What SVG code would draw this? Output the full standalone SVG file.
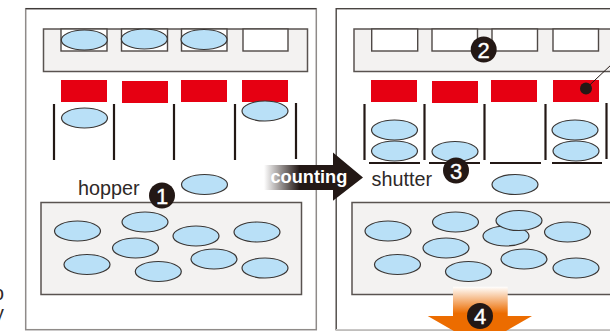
<svg xmlns="http://www.w3.org/2000/svg" width="610" height="331" viewBox="0 0 610 331">
<style>
.pan{fill:#fff;stroke:#8f8b89;stroke-width:1.5}
.blk{fill:#f3f2f1;stroke:#595350;stroke-width:1.5}
.nt{fill:#fff;stroke:#4f4946;stroke-width:1.4}
.rd{fill:#e60012}
.b{fill:#b9e0f7;stroke:#3a3634;stroke-width:1.2}
.w{stroke:#231815;stroke-width:2.2;fill:none}
.t{font-family:"Liberation Sans",Arial,sans-serif;font-size:19.8px;fill:#2e2927}
.bd{fill:#231815}
.n{font-family:"Liberation Sans",Arial,sans-serif;font-size:22px;fill:#fff;text-anchor:middle;stroke:#fff;stroke-width:0.4}
</style>
<defs>
<linearGradient id="gc" x1="0" x2="1" y1="0" y2="0"><stop offset="0" stop-color="#fff"/><stop offset="0.36" stop-color="#231815"/><stop offset="1" stop-color="#231815"/></linearGradient>
<linearGradient id="go" x1="0" x2="0" y1="0" y2="1"><stop offset="0" stop-color="#fff"/><stop offset="0.45" stop-color="#ec6c00"/><stop offset="1" stop-color="#ec6c00"/></linearGradient>
</defs>
<rect width="610" height="331" fill="#fff"/>
<text class="t" x="-7" y="300">o</text>
<text class="t" x="-6" y="320">y</text>

<g id="panel-left">
<rect class="pan" x="25.7" y="8.7" width="290.6" height="321"/>
<path d="M25.7 8.7H316.3" stroke="#3f3a38" stroke-width="1.3" fill="none"/>
<g id="magazine-left">
<rect class="blk" x="43.5" y="29" width="264" height="42.5"/>
<rect class="nt" x="61" y="29" width="46" height="22"/><rect class="nt" x="121.5" y="29" width="46" height="22"/><rect class="nt" x="181.5" y="29" width="45.5" height="22"/><rect class="nt" x="243" y="29" width="45" height="22"/>
</g>
<g id="gates-left">
<rect class="rd" x="61" y="80" width="46" height="22"/><rect class="rd" x="122" y="81" width="46" height="22"/><rect class="rd" x="181" y="80" width="46" height="22"/><rect class="rd" x="242" y="80" width="46" height="22"/>
</g>
<g id="chutes-left" class="w">
<path d="M54 104V160M114 104V160M174 104V160M235 104V160M296 103V159"/>
</g>
<g id="hopper-left">
<rect class="blk" x="41" y="202.5" width="260.5" height="92"/>
</g>
<g id="beans-left">
<ellipse class="b" cx="84.3" cy="40" rx="23" ry="10"/><ellipse class="b" cx="144.3" cy="39" rx="23" ry="10"/><ellipse class="b" cx="204" cy="39.5" rx="23" ry="10"/>
<ellipse class="b" cx="84.5" cy="118" rx="23" ry="10"/><ellipse class="b" cx="265" cy="111" rx="23" ry="10"/>
<ellipse class="b" cx="204.5" cy="184.5" rx="23" ry="10"/>
<ellipse class="b" cx="77.5" cy="231" rx="23" ry="10"/><ellipse class="b" cx="145" cy="222" rx="23" ry="10"/><ellipse class="b" cx="196" cy="236" rx="23" ry="10"/><ellipse class="b" cx="257" cy="232" rx="23" ry="10"/><ellipse class="b" cx="135.5" cy="248" rx="23" ry="10"/><ellipse class="b" cx="87" cy="264.5" rx="23" ry="10"/><ellipse class="b" cx="158.3" cy="271.5" rx="23" ry="10"/><ellipse class="b" cx="214" cy="259" rx="23" ry="10"/><ellipse class="b" cx="265" cy="268" rx="23" ry="10"/>
</g>
<text class="t" x="78" y="195">hopper</text>
<g id="badge-1"><circle class="bd" cx="162" cy="195.500" r="13"/><text class="n" x="162" y="203.500">1</text></g>
</g>

<g id="panel-right">
<rect x="336.2" y="8.7" width="290" height="321" fill="#fff" stroke="#4a4542" stroke-width="1.4"/>
<path d="M336 329.7H610" stroke="#c9c7c6" stroke-width="1.4"/>
<g id="magazine-right">
<rect class="blk" x="354" y="29" width="270" height="42.5"/>
<rect class="nt" x="371.7" y="29" width="46" height="22"/><rect class="nt" x="432" y="29" width="45.5" height="22"/><rect class="nt" x="492" y="29" width="45.5" height="22"/><rect class="nt" x="553" y="29" width="45.5" height="22"/>
</g>
<g id="gates-right">
<rect class="rd" x="371" y="80" width="46" height="22"/><rect class="rd" x="432" y="81" width="46" height="22"/><rect class="rd" x="491" y="80" width="46" height="22"/><rect class="rd" x="553" y="80" width="46" height="22"/>
</g>
<g id="chutes-right" class="w">
<path d="M364.5 104V160M424.5 104V160M484.5 104V160M545.5 104V160M606.5 103V159"/>
<path d="M369 163H420M429 163H480M490 163H541M552 163H602"/>
</g>
<g id="hopper-right">
<rect class="blk" x="352" y="202.5" width="270" height="92"/>
</g>
<g id="beans-right">
<ellipse class="b" cx="394.5" cy="130" rx="23" ry="10"/><ellipse class="b" cx="394.5" cy="151" rx="23" ry="10"/><ellipse class="b" cx="455" cy="151.5" rx="23" ry="10"/><ellipse class="b" cx="575" cy="130" rx="23" ry="10"/><ellipse class="b" cx="576" cy="151" rx="23" ry="10"/>
<ellipse class="b" cx="515" cy="184.5" rx="23" ry="10"/>
<ellipse class="b" cx="388" cy="231" rx="23" ry="10"/><ellipse class="b" cx="455.5" cy="222" rx="23" ry="10"/><ellipse class="b" cx="506" cy="236" rx="23" ry="10"/><ellipse class="b" cx="519" cy="220.5" rx="23" ry="10"/><ellipse class="b" cx="567.5" cy="232" rx="23" ry="10"/><ellipse class="b" cx="446" cy="248" rx="23" ry="10"/><ellipse class="b" cx="397.5" cy="264.5" rx="23" ry="10"/><ellipse class="b" cx="468.5" cy="271.5" rx="23" ry="10"/><ellipse class="b" cx="524" cy="259" rx="23" ry="10"/><ellipse class="b" cx="576" cy="268" rx="23" ry="10"/>
</g>
<text class="t" x="371.5" y="186">shutter</text>
<g id="badge-2"><circle class="bd" cx="483.7" cy="49.5" r="13"/><text class="n" x="483.7" y="57.500">2</text></g>
<g id="badge-3"><circle class="bd" cx="456" cy="170.500" r="13"/><text class="n" x="456" y="178.500">3</text></g>
<g id="pointer"><path d="M586 88.500L612 64" stroke="#231815" stroke-width="1" fill="none"/><circle class="bd" cx="586" cy="88.500" r="6"/></g>
</g>

<g id="connectors">
<path id="counting-arrow" d="M264 165H333V152.500L363 177.500L333 200.700V190H264Z" fill="url(#gc)"/>
<text x="270.500" y="183" style="font-family:'Liberation Sans',Arial,sans-serif;font-size:18.2px;font-weight:bold;fill:#fff">counting</text>
<path id="output-arrow" d="M453 286.700H507.700V316H532L480 346L427.700 316H453Z" fill="url(#go)"/>
</g>
<g id="badge-4"><circle class="bd" cx="480" cy="316" r="13"/><text class="n" x="480" y="324">4</text></g>
</svg>
